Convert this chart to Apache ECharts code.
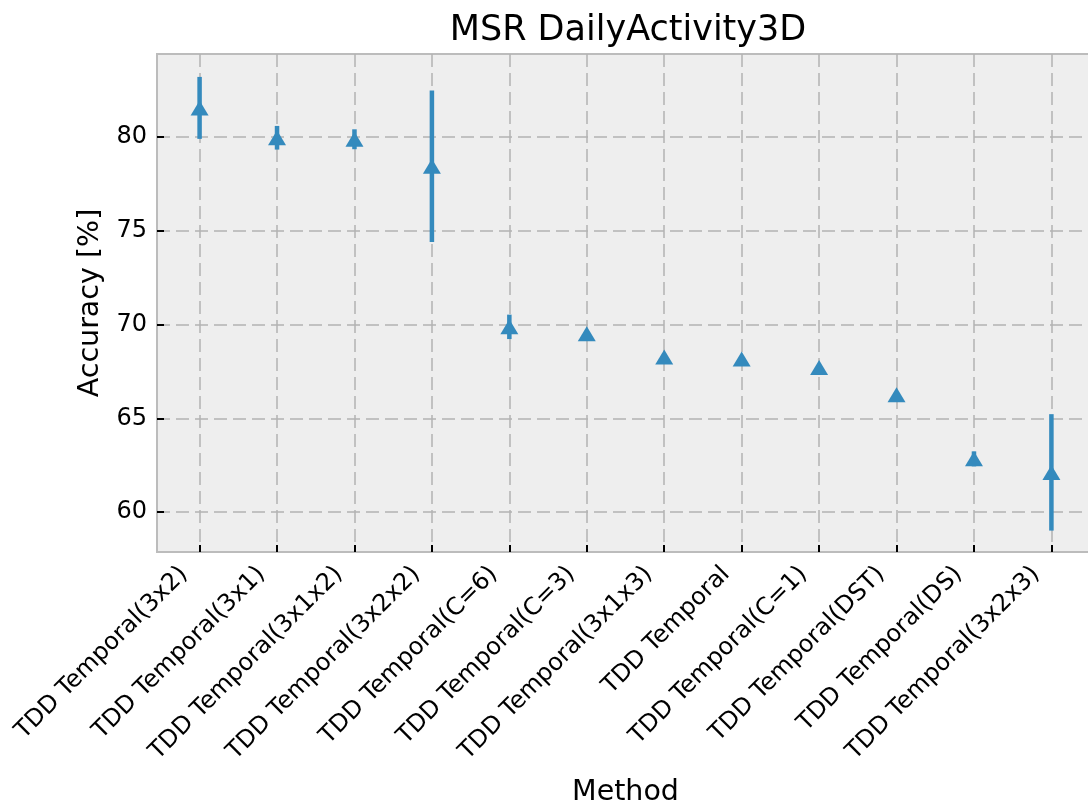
<!DOCTYPE html>
<html>
<head>
<meta charset="utf-8">
<title>MSR DailyActivity3D</title>
<script src="https://cdn.jsdelivr.net/npm/echarts@6/dist/echarts.min.js"></script>
<style>
  html, body { margin: 0; padding: 0; background: #ffffff; }
  #chart { width: 1088px; height: 809px; }
</style>
</head>
<body>
<div id="chart"></div>
<script>
// Methods, in the order they are plotted
const methods = [
  'TDD Temporal(3x2)', 'TDD Temporal(3x1)', 'TDD Temporal(3x1x2)', 'TDD Temporal(3x2x2)',
  'TDD Temporal(C=6)', 'TDD Temporal(C=3)', 'TDD Temporal(3x1x3)', 'TDD Temporal',
  'TDD Temporal(C=1)', 'TDD Temporal(DST)', 'TDD Temporal(DS)', 'TDD Temporal(3x2x3)'
];
// Mean accuracy [%] per method
const accuracy = [81.53, 79.94, 79.86, 78.42, 69.87, 69.50, 68.27, 68.16, 67.70, 66.26, 62.84, 62.12];
// Standard deviation [%] per method (drawn as symmetric error bars)
const stdDev = [1.65, 0.63, 0.53, 4.03, 0.65, 0.15, 0.12, 0.12, 0.12, 0.12, 0.40, 3.10];
// Y tick values
const yTicks = [60, 65, 70, 75, 80];

const BLUE = '#348ABD';
const positions = methods.map((_, i) => i);

const chart = echarts.init(document.getElementById('chart'), null, { renderer: 'canvas' });

const gridDash = { color: '#b2b2b2', width: 1.5, type: [13, 6] };

chart.setOption({
  animation: false,
  backgroundColor: '#ffffff',
  textStyle: { fontFamily: 'DejaVu Sans', color: '#000000' },
  title: {
    text: 'MSR DailyActivity3D',
    left: 623,
    textAlign: 'center',
    top: 8,
    textStyle: { fontFamily: 'DejaVu Sans', fontSize: 35, fontWeight: 'normal', color: '#000000' }
  },
  grid: {
    left: 157, top: 54, width: 937, height: 498,
    outerBoundsMode: 'none',
    containLabel: false,
    show: true, backgroundColor: '#eeeeee', borderColor: '#bcbcbc', borderWidth: 2
  },
  xAxis: {
    type: 'value',
    min: -0.55, max: 11.55,
    name: 'Method',
    nameLocation: 'middle',
    nameGap: 226,
    nameTextStyle: { fontFamily: 'DejaVu Sans', fontSize: 28.5, color: '#000000', verticalAlign: 'top' },
    axisLine: { show: false, onZero: false },
    axisTick: { show: true, inside: true, length: 7, customValues: positions,
                lineStyle: { color: '#000000', width: 2 } },
    axisLabel: {
      customValues: positions,
      rotate: 45, margin: 3,
      fontFamily: 'DejaVu Sans', fontSize: 24, color: '#000000',
      formatter: v => '{m|' + methods[Math.round(v)] + '}',
      rich: { m: { fontFamily: 'DejaVu Sans', fontSize: 24, color: '#000000', padding: [0, 22, 0, 0] } }
    },
    splitLine: { show: true, lineStyle: gridDash }
  },
  yAxis: {
    type: 'value',
    min: 57.88, max: 84.40,
    name: 'Accuracy [%]',
    nameLocation: 'middle',
    nameGap: 41,
    nameTextStyle: { fontFamily: 'DejaVu Sans', fontSize: 28.5, color: '#000000' },
    axisLine: { show: false, onZero: false },
    axisTick: { show: true, inside: true, length: 7, customValues: yTicks,
                lineStyle: { color: '#000000', width: 2 } },
    axisLabel: {
      customValues: yTicks, margin: 10,
      fontFamily: 'DejaVu Sans', fontSize: 24, color: '#000000'
    },
    splitLine: { show: true, lineStyle: gridDash }
  },
  series: [
    {
      // vertical error bars: mean ± std
      type: 'custom',
      data: positions.map(i => [i, accuracy[i] - stdDev[i], accuracy[i] + stdDev[i]]),
      encode: { x: 0, y: [1, 2] },
      renderItem: function (params, api) {
        const lo = api.coord([api.value(0), api.value(1)]);
        const hi = api.coord([api.value(0), api.value(2)]);
        return {
          type: 'line',
          shape: { x1: lo[0], y1: lo[1], x2: hi[0], y2: hi[1] },
          style: { stroke: BLUE, lineWidth: 4.5 }
        };
      },
      z: 2
    },
    {
      type: 'scatter',
      data: positions.map(i => [i, accuracy[i]]),
      symbol: 'triangle',
      symbolSize: [18, 15],
      itemStyle: { color: BLUE, opacity: 1 },
      z: 3
    }
  ]
});
</script>
</body>
</html>
